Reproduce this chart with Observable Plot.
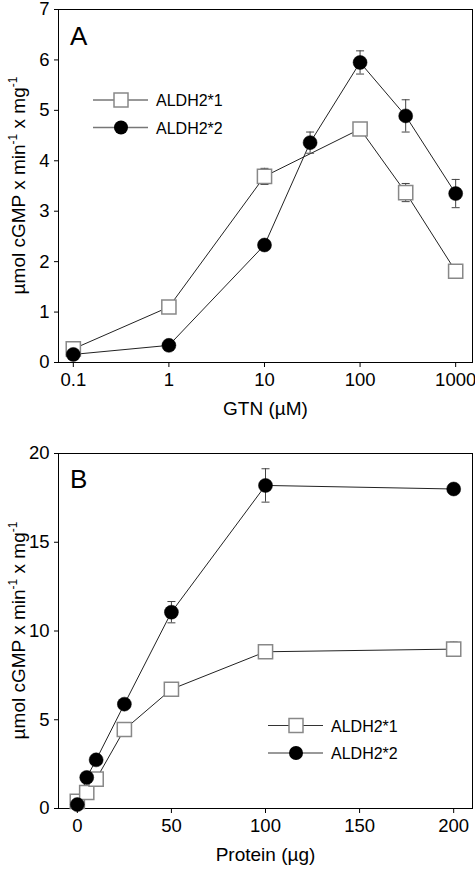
<!DOCTYPE html>
<html><head><meta charset="utf-8">
<script src="https://cdn.jsdelivr.net/npm/d3@7"></script>
<script src="https://cdn.jsdelivr.net/npm/@observablehq/plot@0.6"></script>
<style>body{margin:0;background:#fff} svg{display:block}</style>
</head><body><div id="chart"></div>
<script>
// Panel A: activity vs GTN concentration
const gtnA1 = [0.1, 1, 10, 100, 300, 1000];
const a1 = [0.27, 1.10, 3.69, 4.63, 3.37, 1.81];
const a1Err = [0, 0, 0.16, 0.04, 0.18, 0];
const gtnA2 = [0.1, 1, 10, 30, 100, 300, 1000];
const a2 = [0.16, 0.34, 2.33, 4.36, 5.95, 4.89, 3.35];
const a2Err = [0, 0, 0, 0.21, 0.23, 0.32, 0.28];
const gtnTicks = [0.1, 1, 10, 100, 1000];
const yTicksA = [0, 1, 2, 3, 4, 5, 6, 7];

// Panel B: activity vs protein amount
const protein = [0, 5, 10, 25, 50, 100, 200];
const b1 = [0.40, 0.90, 1.65, 4.45, 6.72, 8.83, 8.98];
const b1Err = [0, 0, 0, 0, 0, 0, 0.4];
const b2 = [0.22, 1.75, 2.74, 5.88, 11.06, 18.2, 18.0];
const b2Err = [0, 0, 0, 0, 0.6, 0.94, 0];
const proteinTicks = [0, 50, 100, 150, 200];
const yTicksB = [0, 5, 10, 15, 20];

const seriesNames = ["ALDH2*1", "ALDH2*2"];

const FONT = "'Liberation Sans', Arial, sans-serif";
const capSymbol = {draw(ctx, size) { const w = Math.sqrt(size / Math.PI); ctx.moveTo(-w, 0); ctx.lineTo(w, 0); }};

function rows(xs, ys, es, s) { return xs.map((x, i) => ({x, y: ys[i], err: es[i], s})); }

function panel({d1, d2, xOpts, yDomain, yTicks, xLabel, height, marginTop, marginBottom, letter, letterY, legend}) {
  const all = d1.concat(d2);
  const errRows = all.filter(d => d.err > 0);
  const svg = Plot.plot({
    width: 475, height, marginTop, marginBottom, marginLeft: 58, marginRight: 3,
    style: {fontFamily: FONT, fontSize: "18.5px", color: "#000", background: "#fff", overflow: "visible"},
    x: xOpts,
    y: {domain: yDomain},
    marks: [
      Plot.frame({stroke: "#000", strokeWidth: 1}),
      Plot.axisY({ticks: yTicks, tickSize: 4, tickPadding: 5, label: null, fontSize: 18.5, tickFormat: d => String(d)}),
      Plot.axisX({ticks: xOpts.ticksList, tickSize: 5, tickPadding: 5, label: null, fontSize: 18.5, tickFormat: d => String(d)}),
      Plot.line(d1, {x: "x", y: "y", stroke: "#222", strokeWidth: 1}),
      Plot.line(d2, {x: "x", y: "y", stroke: "#222", strokeWidth: 1}),
      Plot.ruleX(errRows, {x: "x", y1: d => d.y - d.err, y2: d => d.y + d.err, stroke: "#444", strokeWidth: 1}),
      Plot.dot(errRows, {x: "x", y: d => d.y + d.err, symbol: capSymbol, r: 4, stroke: "#444", fill: "none", strokeWidth: 1}),
      Plot.dot(errRows, {x: "x", y: d => d.y - d.err, symbol: capSymbol, r: 4, stroke: "#444", fill: "none", strokeWidth: 1}),
      Plot.dot(d1, {x: "x", y: "y", symbol: "square", r: 8, fill: "#fff", stroke: "#888", strokeWidth: 1.5}),
      Plot.dot(d2, {x: "x", y: "y", symbol: "circle", r: 7, fill: "#000", stroke: "#000", strokeWidth: 0.5})
    ]
  });
  const s = d3.select(svg);
  s.selectAll("g[aria-label$='tick label']").attr("font-size", 18.5).selectAll("text").attr("font-size", 18.5);
  const top = marginTop, bottom = height - marginBottom;
  // y axis title
  const yt = s.append("text").attr("transform", `translate(25,${(top + bottom) / 2}) rotate(-90)`)
    .attr("text-anchor", "middle").attr("font-family", FONT).attr("font-size", 19).attr("fill", "#000");
  yt.append("tspan").text("µmol cGMP x min");
  yt.append("tspan").text("-1").attr("font-size", 12).attr("dy", -8);
  yt.append("tspan").text(" x mg").attr("dy", 8);
  yt.append("tspan").text("-1").attr("font-size", 12).attr("dy", -8);
  // x axis title
  s.append("text").attr("x", 58 + (475 - 60) / 2).attr("y", bottom + 53).attr("text-anchor", "middle")
    .attr("font-family", FONT).attr("font-size", 19).attr("fill", "#000").text(xLabel);
  // panel letter
  s.append("text").attr("x", 70).attr("y", letterY).attr("text-anchor", "start").attr("font-family", FONT).attr("font-size", 26).attr("fill", "#000").text(letter);
  // legend
  const lg = s.append("g");
  [0, 1].forEach(i => {
    const y = legend.y + i * 27.5;
    lg.append("line").attr("x1", legend.x).attr("x2", legend.x + 55).attr("y1", y).attr("y2", y)
      .attr("stroke", i === 0 ? "#333" : "#777").attr("stroke-width", i === 0 ? 1 : 1.5);
    const cx = legend.x + 28;
    if (i === 0) lg.append("rect").attr("x", cx - 7).attr("y", y - 7).attr("width", 14).attr("height", 14)
      .attr("fill", "#fff").attr("stroke", "#888").attr("stroke-width", 1.5);
    else lg.append("circle").attr("cx", cx).attr("cy", y).attr("r", 7).attr("fill", "#000");
    lg.append("text").attr("x", legend.x + 63).attr("y", y + 6).attr("text-anchor", "start").attr("font-family", FONT).attr("font-size", 16)
      .attr("fill", "#000").text(seriesNames[i]);
  });
  return svg;
}

const chart = document.getElementById("chart");
chart.appendChild(panel({
  d1: rows(gtnA1, a1, a1Err, seriesNames[0]),
  d2: rows(gtnA2, a2, a2Err, seriesNames[1]),
  xOpts: {type: "log", domain: [0.07, 1500], ticksList: gtnTicks},
  yDomain: [0, 7], yTicks: yTicksA, xLabel: "GTN (µM)",
  height: 436, marginTop: 9, marginBottom: 74, letter: "A", letterY: 45,
  legend: {x: 93, y: 100}
}));
chart.appendChild(panel({
  d1: rows(protein, b1, b1Err, seriesNames[0]),
  d2: rows(protein, b2, b2Err, seriesNames[1]),
  xOpts: {type: "linear", domain: [-10, 210], ticksList: proteinTicks},
  yDomain: [0, 20], yTicks: yTicksB, xLabel: "Protein (µg)",
  height: 436, marginTop: 17, marginBottom: 64, letter: "B", letterY: 52,
  legend: {x: 268, y: 289.5}
}));
</script></body></html>
